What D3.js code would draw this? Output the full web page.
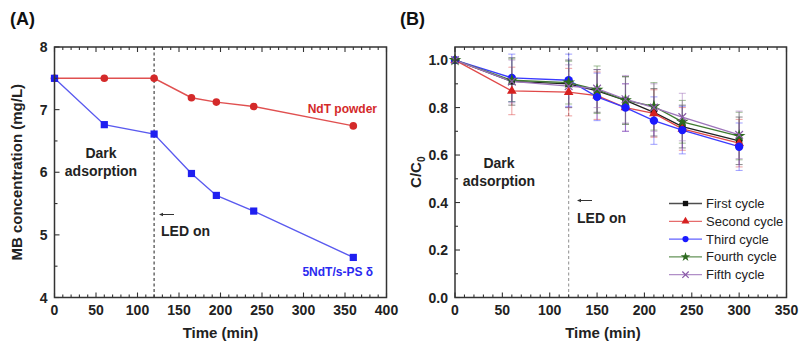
<!DOCTYPE html>
<html>
<head>
<meta charset="utf-8">
<script src="https://cdn.jsdelivr.net/npm/d3@7/dist/d3.min.js"></script>
<style>
  html, body { margin: 0; padding: 0; background: #fff; }
  svg { display: block; font-family: "Liberation Sans", Arial, sans-serif; }
</style>
</head>
<body>
<svg id="chart" width="800" height="342"></svg>
<script>
// ---- Panel A: MB concentration vs time ----
const timeA = [0, 60, 120, 165, 195, 240, 360];
const ndtPowder = [7.5, 7.5, 7.5, 7.19, 7.12, 7.05, 6.74];
const ndtSps = [7.5, 6.76, 6.61, 5.98, 5.63, 5.38, 4.64];
const xTicksA = [0, 50, 100, 150, 200, 250, 300, 350, 400];
const yTicksA = [4, 5, 6, 7, 8];

// ---- Panel B: recycling runs, C/C0 vs time ----
const timeB = [0, 60, 120, 150, 180, 210, 240, 300];
const cycleNames = ["First cycle", "Second cycle", "Third cycle", "Fourth cycle", "Fifth cycle"];
const firstCycle  = [1.0, 0.910, 0.900, 0.870, 0.830, 0.780, 0.720, 0.660];
const secondCycle = [1.0, 0.870, 0.865, 0.850, 0.800, 0.775, 0.710, 0.650];
const thirdCycle  = [1.0, 0.925, 0.915, 0.845, 0.800, 0.745, 0.705, 0.635];
const fourthCycle = [1.0, 0.915, 0.905, 0.875, 0.830, 0.805, 0.740, 0.680];
const fifthCycle  = [1.0, 0.910, 0.890, 0.880, 0.835, 0.800, 0.760, 0.685];
const firstErr  = [0, 0.10, 0.10, 0.09, 0.10, 0.10, 0.09, 0.10];
const secondErr = [0, 0.10, 0.10, 0.10, 0.10, 0.10, 0.09, 0.10];
const thirdErr  = [0, 0.10, 0.11, 0.10, 0.10, 0.10, 0.10, 0.10];
const fourthErr = [0, 0.09, 0.09, 0.10, 0.10, 0.10, 0.09, 0.10];
const fifthErr  = [0, 0.09, 0.09, 0.08, 0.10, 0.10, 0.10, 0.10];
const xTicksB = [0, 50, 100, 150, 200, 250, 300, 350];
const yTicksB = [0.0, 0.2, 0.4, 0.6, 0.8, 1.0];

const svg = d3.select("#chart");
const frameColor = "#333";

function frame(g, x, y, xTicks, yTicks, xMinorStep, yMinorStep, yFmt) {
  const [x0, x1] = x.range();
  const [y0, y1] = y.range(); // y0 bottom, y1 top
  const xd = x.domain(), yd = y.domain();
  // minor ticks
  const xMinor = d3.range(xd[0], xd[1] + 1e-9, xMinorStep);
  const yMinor = d3.range(yd[0], yd[1] + 1e-9, yMinorStep);
  const tk = g.append("g").attr("stroke", frameColor).attr("stroke-width", 1.1);
  xMinor.forEach(v => {
    const major = xTicks.some(t => Math.abs(t - v) < 1e-6);
    const len = major ? 5 : 3;
    tk.append("line").attr("x1", x(v)).attr("x2", x(v)).attr("y1", y0).attr("y2", y0 - len);
    tk.append("line").attr("x1", x(v)).attr("x2", x(v)).attr("y1", y1).attr("y2", y1 + len);
  });
  yMinor.forEach(v => {
    const major = yTicks.some(t => Math.abs(t - v) < 1e-6);
    const len = major ? 5 : 3;
    tk.append("line").attr("x1", x0).attr("x2", x0 + len).attr("y1", y(v)).attr("y2", y(v));
  });
  g.append("rect").attr("x", x0).attr("y", y1).attr("width", x1 - x0).attr("height", y0 - y1)
    .attr("fill", "none").attr("stroke", frameColor).attr("stroke-width", 1.5);
  // tick labels
  g.append("g").selectAll("text").data(xTicks).join("text")
    .attr("x", d => x(d)).attr("y", y0 + 17).attr("text-anchor", "middle")
    .attr("font-size", 14).attr("font-weight", "bold").attr("fill", "#222").text(d => d);
  g.append("g").selectAll("text").data(yTicks).join("text")
    .attr("x", x0 - 7).attr("y", d => y(d) + 5).attr("text-anchor", "end")
    .attr("font-size", 14).attr("font-weight", "bold").attr("fill", "#222").text(yFmt);
}

// ================= Panel A =================
const gA = svg.append("g");
const xA = d3.scaleLinear().domain([0, 400]).range([54.5, 386.5]);
const yA = d3.scaleLinear().domain([4, 8]).range([297.5, 47]);

// dashed LED-on line
gA.append("line").attr("x1", xA(120)).attr("x2", xA(120)).attr("y1", yA(8)).attr("y2", yA(4))
  .attr("stroke", "#444").attr("stroke-width", 1.2).attr("stroke-dasharray", "3,2.5");

const lineA = d3.line().x((d, i) => xA(timeA[i])).y(d => yA(d));
gA.append("path").datum(ndtPowder).attr("d", lineA).attr("fill", "none")
  .attr("stroke", "#e05050").attr("stroke-width", 1.4);
gA.append("path").datum(ndtSps).attr("d", lineA).attr("fill", "none")
  .attr("stroke", "#5a5aef").attr("stroke-width", 1.4);
gA.append("g").selectAll("circle").data(ndtPowder).join("circle")
  .attr("cx", (d, i) => xA(timeA[i])).attr("cy", d => yA(d)).attr("r", 3.8).attr("fill", "#d42a2a");
gA.append("g").selectAll("rect").data(ndtSps).join("rect")
  .attr("x", (d, i) => xA(timeA[i]) - 3.6).attr("y", d => yA(d) - 3.6)
  .attr("width", 7.2).attr("height", 7.2).attr("fill", "#1f1ff0");

frame(gA, xA, yA, xTicksA, yTicksA, 10, 0.5, d => d);

gA.append("text").attr("x", 10).attr("y", 25).attr("font-size", 18).attr("font-weight", "bold")
  .attr("fill", "#111").text("(A)");
gA.append("text").attr("x", xA(200)).attr("y", 338).attr("text-anchor", "middle")
  .attr("font-size", 15).attr("font-weight", "bold").attr("fill", "#222").text("Time (min)");
gA.append("text").attr("transform", `translate(22,${(yA(4) + yA(8)) / 2}) rotate(-90)`)
  .attr("text-anchor", "middle").attr("font-size", 15).attr("font-weight", "bold")
  .attr("fill", "#222").text("MB concentration (mg/L)");

gA.append("text").attr("x", 101).attr("y", 158).attr("text-anchor", "middle")
  .attr("font-size", 14).attr("font-weight", "bold").attr("fill", "#222").text("Dark");
gA.append("text").attr("x", 101).attr("y", 176).attr("text-anchor", "middle")
  .attr("font-size", 14).attr("font-weight", "bold").attr("fill", "#222").text("adsorption");
gA.append("text").attr("x", 161).attr("y", 236)
  .attr("font-size", 14).attr("font-weight", "bold").attr("fill", "#222").text("LED on");
gA.append("line").attr("x1", 174).attr("x2", 161).attr("y1", 214.5).attr("y2", 214.5)
  .attr("stroke", "#333").attr("stroke-width", 1);
gA.append("path").attr("d", "M159,214.5 L163,212.8 L163,216.2 Z").attr("fill", "#333");

gA.append("text").attr("x", 377).attr("y", 113).attr("text-anchor", "end")
  .attr("font-size", 12).attr("font-weight", "bold").attr("fill", "#d42a2a").text("NdT powder");
gA.append("text").attr("x", 373).attr("y", 276).attr("text-anchor", "end")
  .attr("font-size", 12).attr("font-weight", "bold").attr("fill", "#2a2af0").text("5NdT/s-PS δ");

// ================= Panel B =================
const gB = svg.append("g");
const xB = d3.scaleLinear().domain([0, 350]).range([455, 786.5]);
const yB = d3.scaleLinear().domain([0, 1.055]).range([297.5, 47]);

gB.append("line").attr("x1", xB(120)).attr("x2", xB(120)).attr("y1", yB(1.055)).attr("y2", yB(0))
  .attr("stroke", "#999").attr("stroke-width", 1.1).attr("stroke-dasharray", "3,2.5");

const cycles = [
  { name: cycleNames[0], vals: firstCycle,  err: firstErr,  color: "#111111", line: "#222", bar: "rgba(60,60,60,0.55)", shape: "square" },
  { name: cycleNames[1], vals: secondCycle, err: secondErr, color: "#d62020", line: "#e04848", bar: "rgba(220,60,60,0.45)", shape: "triangle" },
  { name: cycleNames[2], vals: thirdCycle,  err: thirdErr,  color: "#1a1aff", line: "#3b3bff", bar: "rgba(60,60,255,0.45)", shape: "circle" },
  { name: cycleNames[3], vals: fourthCycle, err: fourthErr, color: "#2d6a1f", line: "#3f7a30", bar: "rgba(60,120,40,0.45)", shape: "star" },
  { name: cycleNames[4], vals: fifthCycle,  err: fifthErr,  color: "#8a5aa8", line: "#9e74bb", bar: "rgba(150,100,180,0.45)", shape: "cross" }
];

const lineB = d3.line().x((d, i) => xB(timeB[i])).y(d => yB(d));

// error bars
cycles.forEach(c => {
  const eg = gB.append("g").attr("stroke", c.bar).attr("stroke-width", 1.1);
  c.vals.forEach((v, i) => {
    if (!c.err[i]) return;
    const x = xB(timeB[i]), yt = yB(v + c.err[i]), yb = yB(v - c.err[i]);
    eg.append("line").attr("x1", x).attr("x2", x).attr("y1", yt).attr("y2", yb);
    eg.append("line").attr("x1", x - 3.5).attr("x2", x + 3.5).attr("y1", yt).attr("y2", yt);
    eg.append("line").attr("x1", x - 3.5).attr("x2", x + 3.5).attr("y1", yb).attr("y2", yb);
  });
});

const symbolType = {
  square: d3.symbolSquare, triangle: d3.symbolTriangle, circle: d3.symbolCircle,
  star: d3.symbolStar, cross: d3.symbolTimes
};
function marker(g, shape, color, x, y, size) {
  if (shape === "cross") {
    g.append("path").attr("transform", `translate(${x},${y})`)
      .attr("d", d3.symbol(d3.symbolTimes, size)()).attr("fill", "none")
      .attr("stroke", color).attr("stroke-width", 1.2);
  } else {
    g.append("path").attr("transform", `translate(${x},${y})`)
      .attr("d", d3.symbol(symbolType[shape], size)()).attr("fill", color);
  }
}

cycles.forEach(c => {
  gB.append("path").datum(c.vals).attr("d", lineB).attr("fill", "none")
    .attr("stroke", c.line).attr("stroke-width", 1.3);
});
cycles.forEach(c => {
  const mg = gB.append("g");
  c.vals.forEach((v, i) => marker(mg, c.shape, c.color, xB(timeB[i]), yB(v),
    c.shape === "circle" ? 55 : c.shape === "star" ? 50 : 40));
});

frame(gB, xB, yB, xTicksB, yTicksB, 10, 0.1, d => d.toFixed(1));

gB.append("text").attr("x", 400).attr("y", 25).attr("font-size", 18).attr("font-weight", "bold")
  .attr("fill", "#111").text("(B)");
gB.append("text").attr("x", 603).attr("y", 338).attr("text-anchor", "middle")
  .attr("font-size", 15).attr("font-weight", "bold").attr("fill", "#222").text("Time (min)");
const yTitle = gB.append("text").attr("transform", `translate(421,${(yB(0) + yB(1.055)) / 2}) rotate(-90)`)
  .attr("text-anchor", "middle").attr("font-size", 15).attr("font-weight", "bold").attr("fill", "#222");
yTitle.append("tspan").text("C/C");
yTitle.append("tspan").attr("font-size", 10).attr("dy", 4).text("0");

gB.append("text").attr("x", 499).attr("y", 168).attr("text-anchor", "middle")
  .attr("font-size", 14).attr("font-weight", "bold").attr("fill", "#222").text("Dark");
gB.append("text").attr("x", 499).attr("y", 186).attr("text-anchor", "middle")
  .attr("font-size", 14).attr("font-weight", "bold").attr("fill", "#222").text("adsorption");
gB.append("text").attr("x", 577).attr("y", 223)
  .attr("font-size", 14).attr("font-weight", "bold").attr("fill", "#222").text("LED on");
gB.append("line").attr("x1", 592).attr("x2", 579).attr("y1", 200.5).attr("y2", 200.5)
  .attr("stroke", "#333").attr("stroke-width", 1);
gB.append("path").attr("d", "M577,200.5 L581,198.8 L581,202.2 Z").attr("fill", "#333");

// legend
const leg = gB.append("g");
cycles.forEach((c, i) => {
  const y = 203.5 + i * 17.8;
  leg.append("line").attr("x1", 669).attr("x2", 702).attr("y1", y).attr("y2", y)
    .attr("stroke", c.line).attr("stroke-width", 1.3).attr("opacity", 0.8);
  marker(leg, c.shape, c.color, 685.5, y, c.shape === "circle" ? 30 : 28);
  leg.append("text").attr("x", 706).attr("y", y + 4.5).attr("font-size", 13)
    .attr("fill", "#222").text(c.name);
});
</script>
</body>
</html>
